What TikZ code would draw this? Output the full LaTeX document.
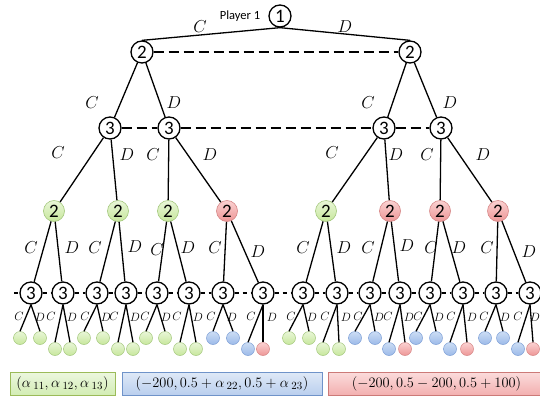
\documentclass[tikz,border=0pt]{standalone}
\usepackage{fontspec}
\setmainfont{Carlito}
\usetikzlibrary{calc}
\definecolor{gTop}{HTML}{E9F6D8}
\definecolor{gBot}{HTML}{C7E79C}
\definecolor{gDraw}{HTML}{A3C77C}
\definecolor{rTop}{HTML}{FAD2D2}
\definecolor{rBot}{HTML}{EE9696}
\definecolor{rDraw}{HTML}{D58585}
\definecolor{bTop}{HTML}{CCDDF4}
\definecolor{bBot}{HTML}{9CBAE9}
\definecolor{bDraw}{HTML}{7C9ED5}
\definecolor{gbTop}{HTML}{ECF7DF}
\definecolor{gbBot}{HTML}{D3EDB4}
\definecolor{gbDraw}{HTML}{9BBB59}
\definecolor{bbTop}{HTML}{DFE9F7}
\definecolor{bbBot}{HTML}{BACFEE}
\definecolor{bbDraw}{HTML}{6F93C9}
\definecolor{rbTop}{HTML}{FBDCDC}
\definecolor{rbBot}{HTML}{F3B0B0}
\definecolor{rbDraw}{HTML}{CC7A78}
\begin{document}
\begin{tikzpicture}[x=1pt,y=-1pt,
  pnode/.style={circle,draw=black,line width=1.3pt,fill=white,minimum size=22pt,inner sep=0pt,font=\fontsize{19}{19}\selectfont},
  gnode/.style={circle,draw=gDraw,line width=0.6pt,top color=gTop,bottom color=gBot,minimum size=21pt,inner sep=0pt,font=\fontsize{19}{19}\selectfont},
  rnode/.style={circle,draw=rDraw,line width=0.6pt,top color=rTop,bottom color=rBot,minimum size=21pt,inner sep=0pt,font=\fontsize{19}{19}\selectfont},
  gleaf/.style={circle,draw=gDraw,line width=0.5pt,top color=gTop,bottom color=gBot,minimum size=13pt,inner sep=0pt},
  bleaf/.style={circle,draw=bDraw,line width=0.5pt,top color=bTop,bottom color=bBot,minimum size=13pt,inner sep=0pt},
  rleaf/.style={circle,draw=rDraw,line width=0.5pt,top color=rTop,bottom color=rBot,minimum size=13pt,inner sep=0pt},
  edge/.style={line width=1.3pt},
  infoset/.style={line width=2.2pt,dash pattern=on 10pt off 5pt},
  sinfo/.style={line width=1.2pt,dash pattern=on 4pt off 4pt},
  lab/.style={font=\fontsize{19}{19}\selectfont},
  slab/.style={font=\fontsize{12.5}{12.5}\selectfont},
  boxtext/.style={font=\fontsize{15.5}{15.5}\selectfont,inner sep=0pt,minimum height=23pt},
  gbox/.style={boxtext,draw=gbDraw,line width=0.6pt,top color=gbTop,bottom color=gbBot},
  bbox/.style={boxtext,draw=bbDraw,line width=0.6pt,top color=bbTop,bottom color=bbBot},
  rbox/.style={boxtext,draw=rbDraw,line width=0.6pt,top color=rbTop,bottom color=rbBot}
]
\useasboundingbox (0,0) rectangle (540,397);
% root and players
\node[pnode] (r) at (280,16) {1};
\node[font=\fontsize{12.5}{12.5}\selectfont] (pl) at (240,16) {Player 1};
\node[pnode] (a1) at (142,52) {2};
\node[pnode] (a2) at (410,52) {2};
\node[pnode] (b1) at (110,128) {3};
\node[pnode] (b2) at (169,128) {3};
\node[pnode] (b3) at (384,128) {3};
\node[pnode] (b4) at (441,128) {3};
\node[gnode] (c1) at (54,211) {2};
\node[gnode] (c2) at (118,211) {2};
\node[gnode] (c3) at (168,211) {2};
\node[rnode] (c4) at (227,211) {2};
\node[gnode] (c5) at (326,211) {2};
\node[rnode] (c6) at (390,211) {2};
\node[rnode] (c7) at (440,211) {2};
\node[rnode] (c8) at (498,211) {2};
\foreach \i/\x in {1/31,2/63,3/97,4/126,5/157,6/189,7/223,8/263,9/303,10/337,11/370,12/400,13/430,14/463,15/496,16/530}
  \node[pnode] (d\i) at (\x,293) {3};
% edges
\draw[edge] (r.south) -- (a1.north);
\draw[edge] (r.south) -- (a2.north);
\foreach \p/\q in {a1/b1,a1/b2,a2/b3,a2/b4,b1/c1,b1/c2,b2/c3,b2/c4,b3/c5,b3/c6,b4/c7,b4/c8,
  c1/d1,c1/d2,c2/d3,c2/d4,c3/d5,c3/d6,c4/d7,c4/d8,c5/d9,c5/d10,c6/d11,c6/d12,c7/d13,c7/d14,c8/d15,c8/d16}
  \draw[edge] (\p) -- (\q);
% information sets
\draw[infoset] (a1.east) -- (a2.west);
\draw[infoset] (b1.east) -- (b2.west);
\draw[infoset] (b2.east) -- (b3.west);
\draw[infoset] (b3.east) -- (b4.west);
\coordinate (dl) at (14,293);
\coordinate (dr) at (540,293);
\draw[sinfo] (dl) -- (d1.west);
\foreach \i [evaluate=\i as \j using int(\i+1)] in {1,...,15}
  \draw[sinfo] (d\i.east) -- (d\j.west);
\draw[sinfo] (d16.east) -- (dr);
% leaves
\foreach \i/\xa/\xb/\y/\ca/\cb in {1/20/40/338/gleaf/gleaf,2/55/70/349/gleaf/gleaf,3/84/103/338/gleaf/gleaf,4/118/133/349/gleaf/gleaf,
  5/146/165/338/gleaf/gleaf,6/180/196/349/gleaf/gleaf,7/213/233/338/bleaf/bleaf,8/248/263/349/bleaf/rleaf,
  9/289/309/338/gleaf/gleaf,10/323/339/349/gleaf/gleaf,11/355/375/338/bleaf/bleaf,12/389/405/349/bleaf/rleaf,
  13/416/436/338/bleaf/bleaf,14/450/467/349/bleaf/rleaf,15/485/503/338/bleaf/bleaf,16/518/533/349/bleaf/rleaf}
{
  \node[\ca] (e\i a) at (\xa,\y) {};
  \node[\cb] (e\i b) at (\xb,\y) {};
  \draw[edge] (d\i.south) -- (e\i a.north);
  \draw[edge] (d\i.south) -- (e\i b.north);
  \node[slab] (lc\i) at ($(d\i)+(-12,23)$) {$C$};
}
\foreach \i in {1,...,15}
  \node[slab] (ld\i) at ($(d\i)+(9,24)$) {$D$};
\node[slab] (ld16) at ($(d16)+(5,24)$) {$D$};
% labels
\node[lab] (lrC) at (200,27) {$C$};
\node[lab] (lrD) at (345,27) {$D$};
\foreach \n/\x/\y/\t in {a1C/92/103/C,a1D/174/103/D,a2C/368/103/C,a2D/450/103/D,
  b1C/58/153/C,b1D/127/155/D,b2C/153/155/C,b2D/210/155/D,b3C/332/153/C,b3D/396/155/D,b4C/427/155/C,b4D/483/155/D,
  c1C/31/248/C,c1D/72/248/D,c2C/95/248/C,c2D/135/247/D,c3C/157/250/C,c3D/188/248/D,c4C/215/248/C,c4D/258/252/D,
  c5C/303/248/C,c5D/344/248/D,c6C/368/248/C,c6D/407/246/D,c7C/431/248/C,c7D/459/248/D,c8C/487/248/C,c8D/529/252/D}
  \node[lab] (l\n) at (\x,\y) {$\t$};
% payoff boxes
\node[gbox,minimum width=105pt] (pg) at (62.5,383.5) {$(\alpha\,{}_{11},\alpha\,{}_{12},\alpha\,{}_{13})$};
\node[bbox,minimum width=200pt] (pb) at (222,383.5) {$(-200,0.5+\alpha\,{}_{22},0.5+\alpha\,{}_{23})$};
\node[rbox,minimum width=217pt] (pr) at (436.5,383.5) {$(-200,0.5-200,0.5+100)$};
\end{tikzpicture}
\end{document}
